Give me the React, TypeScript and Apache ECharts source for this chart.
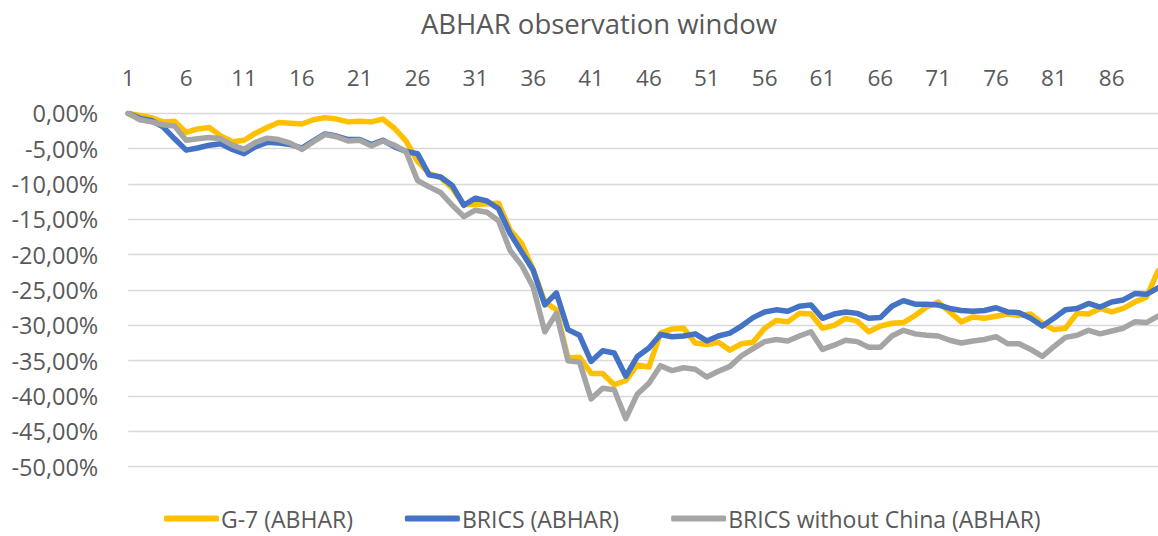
import React, { useEffect, useRef } from "react";
import * as echarts from "echarts";

const categories: string[] = Array.from({ length: 90 }, (_, i) => String(i + 1));

const g7: number[] = [
  0, -0.3, -0.6, -1.2, -1.1, -2.7, -2.2, -2.0, -3.2, -4.0,
  -3.8, -2.8, -2.0, -1.3, -1.4, -1.5, -0.9, -0.6, -0.8, -1.2,
  -1.1, -1.2, -0.8, -2.1, -3.9, -6.8, -8.5, -9.1, -10.6, -12.9,
  -12.9, -12.8, -12.7, -16.5, -18.4, -22.1, -26.7, -27.8, -34.6, -34.5,
  -36.8, -36.8, -38.4, -37.8, -35.6, -35.9, -31.1, -30.5, -30.4, -32.5,
  -32.7, -32.4, -33.5, -32.6, -32.4, -30.4, -29.3, -29.5, -28.3, -28.4,
  -30.4, -30.0, -29.0, -29.4, -30.9, -30.1, -29.7, -29.6, -28.6, -27.4,
  -26.7, -28.1, -29.5, -28.8, -29.0, -28.7, -28.4, -28.6, -28.4, -29.7,
  -30.6, -30.4, -28.3, -28.4, -27.6, -28.1, -27.6, -26.7, -26.0, -22.3,
];

const brics: number[] = [
  0, -0.7, -1.0, -1.9, -3.6, -5.2, -4.9, -4.5, -4.3, -5.1,
  -5.7, -4.7, -4.1, -4.2, -4.4, -4.9, -3.9, -2.9, -3.2, -3.7,
  -3.7, -4.4, -3.8, -4.7, -5.4, -5.7, -8.7, -9.0, -10.2, -13.0,
  -12.0, -12.4, -13.5, -17.0, -19.6, -22.2, -27.1, -25.4, -30.6, -31.4,
  -35.1, -33.6, -33.9, -37.2, -34.4, -33.2, -31.3, -31.6, -31.5, -31.2,
  -32.2, -31.5, -31.1, -30.1, -28.9, -28.1, -27.8, -28.0, -27.3, -27.1,
  -29.0, -28.4, -28.1, -28.3, -29.0, -28.9, -27.3, -26.5, -27.0, -27.0,
  -27.1, -27.6, -27.9, -28.0, -27.9, -27.5, -28.1, -28.2, -29.0, -30.1,
  -29.0, -27.8, -27.6, -26.9, -27.4, -26.7, -26.4, -25.5, -25.6, -24.7,
];

const bricsNoChina: number[] = [
  0, -0.9, -1.2, -1.6, -1.8, -3.8, -3.6, -3.4, -3.6, -4.5,
  -5.1, -4.1, -3.5, -3.7, -4.2, -5.1, -4.0, -3.0, -3.3, -3.9,
  -3.8, -4.6, -3.9, -4.5, -5.4, -9.5, -10.4, -11.2, -13.0, -14.6,
  -13.7, -14.0, -15.2, -19.4, -21.5, -24.6, -30.9, -28.3, -35.0, -35.2,
  -40.4, -38.9, -39.1, -43.2, -39.7, -38.2, -35.7, -36.4, -36.0, -36.2,
  -37.3, -36.5, -35.8, -34.3, -33.3, -32.3, -32.0, -32.2, -31.5, -30.9,
  -33.4, -32.8, -32.1, -32.3, -33.1, -33.1, -31.5, -30.7, -31.2, -31.4,
  -31.5, -32.1, -32.5, -32.2, -32.0, -31.6, -32.6, -32.6, -33.4, -34.4,
  -33.0, -31.7, -31.4, -30.7, -31.2, -30.8, -30.4, -29.5, -29.6, -28.7,
];

const seriesNames: string[] = ["G-7 (ABHAR)", "BRICS (ABHAR)", "BRICS without China (ABHAR)"];
const seriesColors: string[] = ["#FFC000", "#4472C4", "#A5A5A5"];
const titleText = "ABHAR observation window";

const FONT = "'Open Sans', sans-serif";
const TXT = "#595959";

export default function App() {
  const ref = useRef<HTMLDivElement>(null);
  useEffect(() => {
    if (!ref.current) return;
    const chart = echarts.init(ref.current, undefined, { renderer: "svg" });
    const datas = [g7, brics, bricsNoChina];
    chart.setOption({
      animation: false,
      backgroundColor: "#ffffff",
      graphic: [
        {
          type: "text",
          x: 599,
          y: 23,
          style: {
            text: titleText,
            fill: TXT,
            font: `27.5px ${FONT}`,
            textAlign: "center",
            textVerticalAlign: "middle",
          },
        },
      ],
      grid: { left: 128.3, top: 113.4, width: 1033.8, height: 353.3 },
      legend: {
        data: seriesNames,
        left: 164,
        top: 507,
        padding: 0,
        itemWidth: 55,
        itemHeight: 6,
        itemGap: 52,
        icon: "roundRect",
        textStyle: { color: TXT, fontSize: 23, fontFamily: FONT, padding: [0, 0, 0, -3] },
      },
      xAxis: {
        type: "category",
        position: "top",
        data: categories,
        boundaryGap: false,
        axisLine: { show: false },
        axisTick: { show: false },
        splitLine: { show: false },
        axisLabel: { interval: 4, margin: 24, color: TXT, fontSize: 22.5, fontFamily: FONT },
      },
      yAxis: {
        type: "value",
        min: -50,
        max: 0,
        interval: 5,
        axisLine: { show: false },
        axisTick: { show: false },
        splitLine: { lineStyle: { color: "#D9D9D9", width: 1.3 } },
        axisLabel: {
          margin: 30,
          color: TXT,
          fontSize: 23.5,
          fontFamily: FONT,
          formatter: (v: number) => (v === 0 ? 0 : v).toFixed(2).replace(".", ",") + "%",
        },
      },
      series: seriesNames.map((name, k) => ({
        name,
        type: "line",
        data: datas[k],
        symbol: "none",
        color: seriesColors[k],
        lineStyle: { width: 5.5, color: seriesColors[k], cap: "round", join: "round" },
        z: 2 + k,
      })),
    });
    return () => chart.dispose();
  }, []);
  return (
    <div
      ref={ref}
      style={{ position: "fixed", left: 0, top: 0, width: 1158, height: 536, background: "#fff" }}
    />
  );
}
